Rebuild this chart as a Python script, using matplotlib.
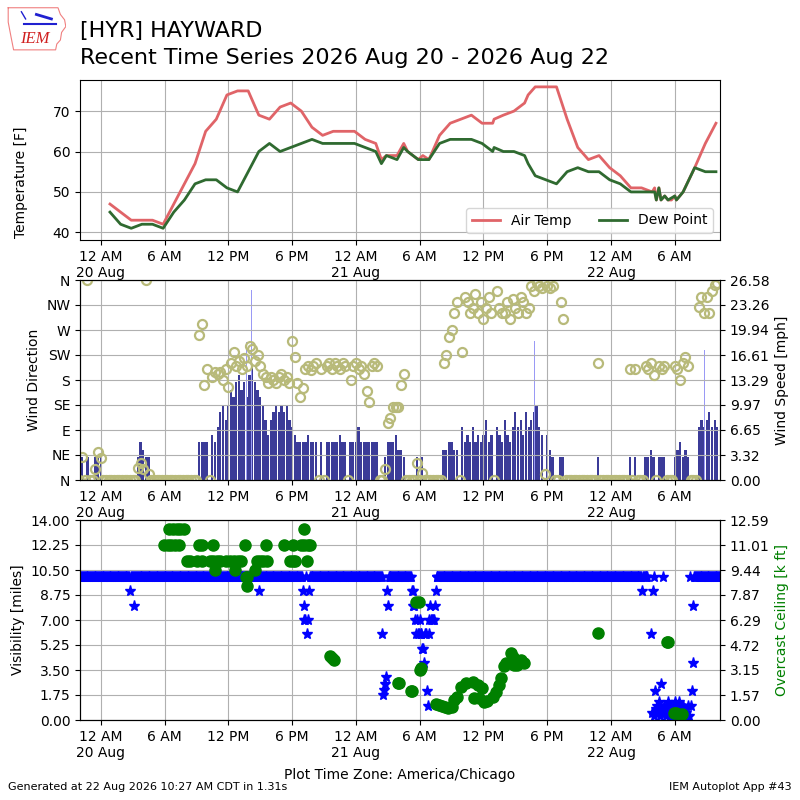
import numpy as np
import matplotlib
matplotlib.use("Agg")
import matplotlib.pyplot as plt
import matplotlib.dates as mdates
from matplotlib.ticker import FuncFormatter
from datetime import datetime, timedelta

BASE = datetime(2026, 8, 20)
nan = np.nan

# hourly obs (hours since 20 Aug 00:00 local) -> air temp / dew point [F]
temp_hours = [0.87, 1.87, 2.87, 3.87, 4.87, 5.87, 6.87, 7.87, 8.87, 9.87,
              10.87, 11.87, 12.87, 13.87, 14.87, 15.87, 16.87, 17.87, 18.87, 19.87,
              20.87, 21.87, 22.87, 23.87, 24.87, 25.87, 26.4, 26.87, 27.87, 28.5,
              28.87, 29.87, 30.3, 30.87, 31.87, 32.87, 33.87, 34.87, 35.87, 36.87,
              37.0, 37.87, 38.87, 39.87, 40.2, 40.87, 41.87, 42.87, 43.87, 44.87,
              45.87, 46.87, 47.87, 48.87, 49.87, 50.87, 51.87, 52.1, 52.26, 52.5,
              52.7, 53.05, 53.36, 53.68, 54.0, 54.15, 54.47, 54.78, 55.87, 56.87, 57.87]
air_temp = [47, 45, 43, 43, 43, 42, 47, 52, 57, 65,
            68, 74, 75, 75, 69, 68, 71, 72, 70, 66,
            64, 65, 65, 65, 63, 62, 58, 59, 59, 62,
            60, 58, 59, 58, 64, 67, 68, 69, 67, 67,
            68, 69, 70, 72, 74, 76, 76, 76, 68, 61,
            58, 59, 56, 54, 51, 51, 50, 51, 48, 51,
            48, 49, 48, 48, 49, 48, 49, 50, 56, 62, 67]
dew_point = [45, 42, 41, 42, 42, 41, 45, 48, 52, 53,
             53, 51, 50, 55, 60, 62, 60, 61, 62, 63,
             62, 62, 62, 62, 61, 60, 57, 59, 58, 61,
             60, 58, 58, 58, 62, 63, 63, 63, 62, 60,
             61, 60, 60, 59, 57, 54, 53, 52, 55, 56,
             55, 55, 53, 52, 50, 50, 50, 50, 48, 51,
             48, 49, 48, 48.5, 49, 48, 49, 50, 56, 55, 55]

# 15 minute wind obs starting 19 Aug 22:00 (4 per hour)
wind_speed = [0, 3, 0, 3,  0, 0, 3, 3,  3, 0, 0, 0,  0, 0, 0, 0,  0, 0, 0, 0,  # 22-02
              0, 0, 3, 5,  4, 3, 3, 0,  0, 0, 0, 0,  0, 0, 0, 0,  0, 0, 0, 0,  # 03-07
              0, 0, 0, 0,  0, 5, 5, 5,  5, 0, 6, 5,  7, 9, 10, 8,  10, 12, 11, 13,  # 08-12
              14, 12, 13, 11,  14, 15, 13, 12,  11, 10, 8, 6,  8, 9, 10, 9,  10, 9, 10, 8,  # 13-17
              7, 6, 5, 5,  5, 5, 6, 5,  5, 5, 0, 5,  0, 5, 5, 5,  5, 5, 6, 5,  # 18-22
              5, 0, 5, 5,  5, 7, 5, 5,  5, 5, 5, 5,  5, 0, 0, 3,  5, 5, 5, 6,  # 23-03
              4, 4, 3, 0,  0, 0, 0, 3,  0, 3, 0, 0,  0, 0, 0, 0,  0, 4, 4, 5,  # 04-08
              5, 4, 4, 0,  7, 5, 6, 5,  7, 5, 6, 5,  6, 8, 5, 6,  0, 7, 6, 5,  # 09-13
              8, 6, 5, 7,  9, 7, 8, 6,  9, 7, 8, 9,  10, 7, 6, 0,  6, 4, 3, 0,  # 14-18
              0, 3, 3, 0,  0, 0, 0, 0,  0, 0, 0, 0,  0, 0, 0, 3,  0, 0, 0, 0,  # 19-23
              0, 0, 0, 0,  0, 0, 0, 3,  0, 3, 0, 0,  0, 3, 3, 4,  3, 0, 3, 3,  # 00-04
              3, 0, 0, 0,  3, 4, 5, 3,  4, 3, 0, 0,  0, 7, 8, 7,  8, 9, 7, 8,  # 05-09
              7]
wind_dir = [0, 41, 0, 360,  0, 0, 20, 51,  40, 0, 0, 0,  0, 0, 0, 0,  0, 0, 0, 0,
            0, 0, 21, 31,  19, 360, 11, 0,  0, 0, 0, 0,  0, 0, 0, 0,  0, 0, 0, 0,
            0, 0, 0, 0,  0, 261, 281, 171,  200, 0, 185, 195,  190, 195, 180, 200,  168, 210, 231, 205,
            215, 200, 220, 205,  241, 235, 215, 225,  205, 190, 185, 175,  185, 180, 175, 185,  190, 180, 185, 175,
            251, 221, 174, 150,  165, 200, 205, 198,  205, 210, 0, 200,  0, 205, 210, 200,  210, 205, 200, 210,
            205, 0, 180, 205,  210, 200, 205, 191,  161, 141, 205, 210,  205, 0, 0, 20,  102, 111, 131, 131,
            131, 171, 191, 0,  0, 0, 0, 31,  0, 12, 0, 0,  0, 0, 0, 0,  0, 211, 225, 258,
            270, 300, 320, 0,  230, 330, 320, 300,  310, 335, 300, 320,  290, 310, 330, 300,  0, 340, 310, 300,
            300, 320, 290, 325,  310, 300, 330, 320,  300, 310, 350, 340,  355, 350, 345, 11,  350, 345, 350, 0,
            0, 320, 289, 0,  0, 0, 0, 0,  0, 0, 0, 0,  0, 0, 0, 210,  0, 0, 0, 0,
            0, 0, 0, 0,  0, 0, 0, 200,  0, 200, 0, 0,  0, 205, 200, 210,  189, 0, 205, 200,
            205, 0, 0, 0,  205, 200, 180, 210,  221, 205, 0, 0,  0, 311, 330, 300,  330, 300, 340, 351,
            355]
gust_hours = [11.7, 13.1, 13.3, 13.7, 14.2, 14.6, 40.8, 56.8]
gust_speed = [18.5, 20.8, 20.8, 18.4, 25.3, 15.0, 18.5, 17.3]

# 5 minute visibility [miles] starting 19 Aug 22:00
visibility = ([10] * 57 + [9] + [10] * 4 + [8] + [10] * 140 + [9] + [10] * 48
              + [9, 8, 7, 7, 10, 6, 7, 9] + [10] * 82
              + [6, 1.75, 2.1, 2.5, 3, 9, 8] + [10] * 26
              + [9, 9, 8, 8, 7, 6, 7, 6, 6, 7, 6, 6, 5, 5, 4, 6, 6, 2, 1, 6,
                 7, 8, 7, 7, 7, 7, 8, 9]
              + [10] * 232 + [9] + [10] * 6
              + [nan, nan, nan, 6, 0.5, 9, 0.25, 10, 2, 0.75, 1.0, 0.5, 1.25,
                 0.25, 2.5, 0.75, 0.5, 10]
              + [1.0, 0.5, 0.25, 0.75, 1.25, 0.5, 0.25, 0.5, 1.0, 0.25, 0.5, 0.75,
                 1.25, 0.25, 0.5, 1.0, 0.25, 1.25, 0.5, 0.25, 0.75, 1.0, 0.5, 0.25,
                 0.75, 0.5, 0.25, 1.0, 0.25]
              + [10, 1, 2, 4, 8] + [10] * 30)

# overcast ceiling [k ft]
ceil_hours = [5.95, 6.3, 6.65, 7.0, 7.35, 6.45, 6.8, 7.15, 7.5, 7.8,
              8.1, 8.4, 9.2, 9.5, 9.1, 9.5, 10.6, 10.3, 10.6, 10.9, 11.2, 10.75,
              11.8, 12.2, 12.5, 12.9, 13.2, 12.64, 13.58, 13.7, 13.78, 13.8, 14.53,
              14.7, 15.0, 15.3, 15.6, 15.57, 17.2, 18.08, 17.8, 18.05, 18.3, 19.09,
              18.85, 19.15, 19.45, 19.7, 19.4, 21.6, 21.75, 21.9,
              28.0, 28.1, 29.15, 29.3, 29.65, 29.9, 30.05, 30.15,
              31.5, 31.8, 32.1, 32.4, 32.7, 33.0,
              33.24, 33.55, 33.87, 34.34, 34.97, 35.44, 35.13, 35.6, 35.9, 36.07, 36.38,
              36.86, 37.17, 37.48, 37.64, 37.96, 38.1, 38.6, 38.74, 38.9, 39.2, 39.5, 39.84,
              46.75, 53.3, 53.4, 53.97, 54.1, 54.55, 54.65]
ceiling = [11, 11, 11, 11, 11, 12, 12, 12, 12, 12,
           10, 10, 11, 11, 10, 10, 11, 10, 10, 10, 10, 9.44,
           10, 10, 10, 10, 10, 9.44, 11, 9.0, 9.0, 8.44, 9.44,
           10, 10, 10, 10, 11, 11, 11, 10, 10, 10, 12,
           11, 11, 11, 11, 10, 4.0, 3.9, 3.78,
           2.3, 2.3, 1.85, 1.85, 7.45, 7.45, 3.15, 3.3,
           1.0, 0.95, 0.85, 0.8, 0.75, 0.8,
           1.26, 1.47, 2.1, 2.31, 2.41, 2.2, 1.36, 1.4, 1.99, 1.15, 1.2,
           1.47, 1.78, 2.2, 2.62, 3.4, 3.57, 4.2, 3.99, 3.46, 3.46, 3.78, 3.61,
           5.46, 4.93, 4.93, 0.42, 0.42, 0.31, 0.35]

dir_labels = ["N", "NE", "E", "SE", "S", "SW", "W", "NW", "N"]
speed_ticks = [0.00, 3.32, 6.65, 9.97, 13.29, 16.61, 19.94, 23.26, 26.58]
vis_ticks = [0.00, 1.75, 3.50, 5.25, 7.00, 8.75, 10.50, 12.25, 14.00]
ceil_ticks = [0.00, 1.57, 3.15, 4.72, 6.29, 7.87, 9.44, 11.01, 12.59]


def to_dates(hours):
    return [BASE + timedelta(hours=float(h)) for h in hours]


def fmt_time(x, pos):
    d = mdates.num2date(x)
    h12 = d.hour % 12 or 12
    ampm = "AM" if d.hour < 12 else "PM"
    if d.hour == 0:
        return "%d %s\n%s" % (h12, ampm, d.strftime("%d %b"))
    return "%d %s" % (h12, ampm)


def setup_xaxis(ax):
    ax.set_xlim(BASE + timedelta(hours=-1.95), BASE + timedelta(hours=58.25))
    ax.xaxis.set_major_locator(mdates.HourLocator(byhour=[0, 6, 12, 18]))
    ax.xaxis.set_major_formatter(FuncFormatter(fmt_time))
    ax.grid(True)


fig = plt.figure(figsize=(8, 8), dpi=100)

# logo
lax = fig.add_axes([0.008, 0.936, 0.075, 0.056])
lax.set_xlim(0, 1)
lax.set_ylim(0, 1)
lax.axis("off")
iowa_x = [0.03, 0.86, 0.9, 0.97, 0.99, 0.92, 0.9, 0.84, 0.82, 0.12, 0.08, 0.03, 0.03]
iowa_y = [0.97, 0.97, 0.82, 0.7, 0.55, 0.42, 0.25, 0.16, 0.03, 0.03, 0.3, 0.65, 0.97]
lax.plot(iowa_x, iowa_y, color="#f08080", lw=0.8)
lax.plot([0.3, 0.82], [0.6, 0.6], color="#2020d0", lw=1.5)
lax.plot([0.5, 0.75], [0.82, 0.72], color="#2020d0", lw=2)
lax.plot([0.25, 0.32], [0.88, 0.72], color="#2020d0", lw=1)
lax.text(0.48, 0.1, "IEM", color="#d02020", fontsize=12, style="italic",
         family="Liberation Serif", ha="center", va="bottom")

fig.text(0.1, 1 - 37.5 / 800, "[HYR] HAYWARD", fontsize=16, va="baseline")
fig.text(0.1, 1 - 64 / 800, "Recent Time Series 2026 Aug 20 - 2026 Aug 22",
         fontsize=16, va="baseline")

# temperature panel
ax1 = fig.add_axes([0.1, 0.7, 0.8, 0.2])
ax1.plot(to_dates(temp_hours), air_temp, color="#e06468", lw=2, label="Air Temp")
ax1.plot(to_dates(temp_hours), dew_point, color="#2f6a30", lw=2, label="Dew Point")
ax1.set_ylim(38.1, 77.7)
ax1.set_yticks([40, 50, 60, 70])
ax1.set_ylabel("Temperature [F]")
ax1.yaxis.set_label_coords(-0.081, 0.36)
setup_xaxis(ax1)
ax1.legend(loc="lower right", ncol=2)

# wind panel
wind_dates = to_dates([-2 + 0.25 * i for i in range(len(wind_speed))])
ax2 = fig.add_axes([0.1, 0.4, 0.8, 0.25])
ax2b = ax2.twinx()
ax2b.bar(wind_dates, wind_speed, width=0.25 / 24 * 0.85, color="#3b3b98")
ax2b.bar(to_dates(gust_hours), gust_speed, width=0.06 / 24, color="#9a9af5")
ax2b.set_ylim(0, 26.58)
ax2b.set_yticks(speed_ticks)
ax2b.set_yticklabels(["%.2f" % v for v in speed_ticks])
ax2b.set_ylabel("Wind Speed [mph]")
ax2.set_zorder(ax2b.get_zorder() + 1)
ax2.patch.set_visible(False)
ax2.plot(wind_dates, wind_dir, "o", mfc="none", mec="#b8ba7a", ms=6.5, mew=1.6)
ax2.set_ylim(0, 360)
ax2.set_yticks(range(0, 361, 45))
ax2.set_yticklabels(dir_labels)
ax2.set_ylabel("Wind Direction")
setup_xaxis(ax2)
ax2b.set_xlim(ax2.get_xlim())

# visibility / ceiling panel
vis_dates = to_dates([-2 + i / 12 for i in range(len(visibility))])
ax3 = fig.add_axes([0.1, 0.1, 0.8, 0.25])
ax3.plot(vis_dates, visibility, "*", color="blue", ms=8)
ax3.set_ylim(0, 14)
ax3.set_yticks(vis_ticks)
ax3.set_yticklabels(["%.2f" % v for v in vis_ticks])
ax3.set_ylabel("Visibility [miles]")
setup_xaxis(ax3)
ax3b = ax3.twinx()
ax3b.plot(to_dates(ceil_hours), ceiling, "o", color="green", ms=8)
ax3b.set_ylim(0, 12.59)
ax3b.set_yticks(ceil_ticks)
ax3b.set_yticklabels(["%.2f" % v for v in ceil_ticks])
ax3b.set_ylabel("Overcast Ceiling [k ft]", color="green")
ax3b.set_xlim(ax3.get_xlim())

fig.text(0.5, 1 - 779 / 800, "Plot Time Zone: America/Chicago", ha="center",
         va="baseline", fontsize=10)
fig.text(0.01, 0.012, "Generated at 22 Aug 2026 10:27 AM CDT in 1.31s", fontsize=8)
fig.text(0.99, 0.012, "IEM Autoplot App #43", fontsize=8, ha="right")

fig.savefig("out.png", dpi=100)
